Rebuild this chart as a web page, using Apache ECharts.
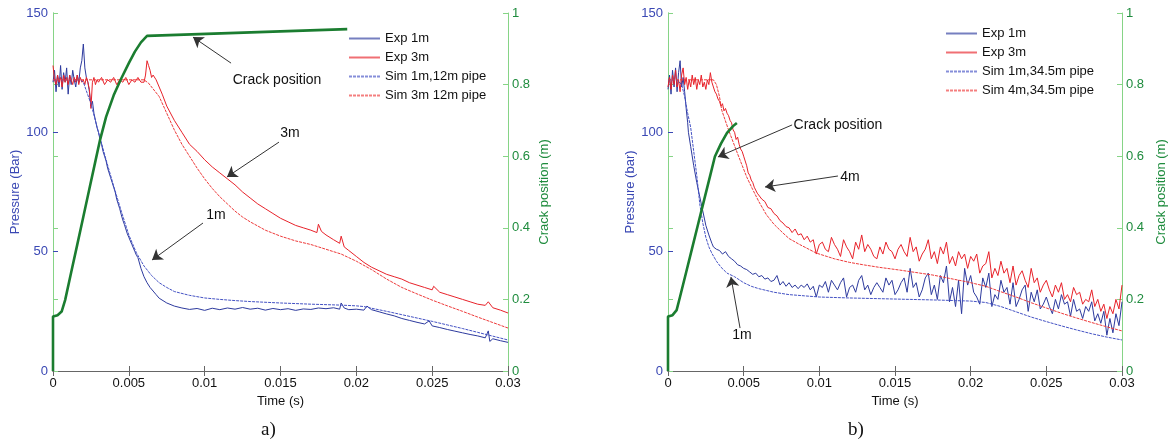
<!DOCTYPE html>
<html><head><meta charset="utf-8">
<script src="https://cdn.jsdelivr.net/npm/echarts/dist/echarts.min.js"></script>
<style>html,body{margin:0;padding:0;background:#fff}#c{width:1170px;height:445px}</style>
</head><body><div id="c"></div><script>
// ---------- data (time s, pressure bar / crack m) ----------
const timeRange = [0, 0.03, 0.005];
const pressureRange = [0, 150, 50];
const crackRange = [0, 1, 0.2];

const expA1m = [[0,121],[0.0001,126],[0.0002,117],[0.0003,124],[0.0004,119],[0.0005,128],[0.0006,118],[0.0007,125],[0.0008,121],[0.0009,127],[0.001,116],[0.0011,124],[0.0012,120],[0.0013,126],[0.0014,122],[0.0015,119],[0.0016,124],[0.0017,121],[0.0018,127],[0.0019,130],[0.002,137],[0.0021,127],[0.0022,123],[0.0023,121],[0.0024,117],[0.0025,111],[0.0026,113],[0.0027,108],[0.0028,105],[0.0029,102],[0.003,100],[0.0031,97],[0.0032,95],[0.0033,92],[0.0034,90],[0.0035,88],[0.0036,85],[0.0037,83],[0.0038,81],[0.0039,79],[0.004,77],[0.0041,75],[0.0042,72],[0.0043,70],[0.0044,68],[0.0045,65.5],[0.0046,63.3],[0.0047,61.5],[0.0048,59.5],[0.0049,57.5],[0.005,56],[0.0051,54.5],[0.0052,53],[0.0053,51.5],[0.0054,50],[0.0055,48.5],[0.0056,47.5],[0.0058,43],[0.006,39.5],[0.0062,37],[0.0064,35],[0.0066,33.5],[0.0068,32],[0.007,30.5],[0.0075,28.5],[0.008,27.2],[0.0085,26.4],[0.009,25.8],[0.0095,26.2],[0.01,25.4],[0.0105,26.3],[0.011,25.7],[0.0115,26.4],[0.012,25.9],[0.0125,26.6],[0.013,25.9],[0.0135,26.3],[0.014,25.5],[0.0145,26.2],[0.015,25.7],[0.0155,26.1],[0.016,25.4],[0.0165,26],[0.017,25.8],[0.0175,26.4],[0.018,26.1],[0.0185,26.5],[0.0189,25.9],[0.019,28.5],[0.0192,26.4],[0.0195,25.7],[0.02,25.9],[0.0205,25.5],[0.0207,27.2],[0.021,25.7],[0.0215,24.8],[0.022,23.9],[0.0225,23.1],[0.023,22],[0.0235,21.2],[0.024,20.4],[0.0245,19.7],[0.0248,21],[0.025,18.9],[0.0255,18.2],[0.026,17.4],[0.0265,16.7],[0.027,16],[0.0275,15.3],[0.028,14.7],[0.0285,13.9],[0.0287,16.8],[0.0288,12.4],[0.029,13.5],[0.0295,12.7],[0.03,12]];
const expA3m = [[0,128],[0.0001,122],[0.0002,120],[0.0003,124],[0.0004,121],[0.0005,123],[0.0006,119],[0.0007,124],[0.0008,121],[0.0009,123],[0.001,120],[0.0011,124],[0.0012,122],[0.0013,120],[0.0014,123],[0.0015,121],[0.0016,124],[0.0017,120],[0.0018,123],[0.0019,121],[0.002,122],[0.0021,120],[0.0022,123],[0.0023,121],[0.0024,118],[0.0025,110],[0.0026,121],[0.0027,123],[0.0028,120],[0.0029,122],[0.003,121],[0.0032,123],[0.0034,120],[0.0036,122],[0.0038,121],[0.004,123],[0.0042,120],[0.0044,122],[0.0046,121],[0.0048,123],[0.005,120],[0.0052,122],[0.0054,121],[0.0056,123],[0.0058,121],[0.006,121],[0.0061,124],[0.0062,130],[0.0063,128],[0.0064,126],[0.0065,123],[0.0066,124],[0.0068,122],[0.007,119],[0.0072,116],[0.0075,111],[0.008,105],[0.0085,100],[0.009,95],[0.0095,92],[0.01,88.5],[0.0105,85.5],[0.011,83],[0.0115,80.5],[0.012,78],[0.0125,75],[0.013,72.5],[0.0135,70],[0.014,68],[0.0145,66],[0.015,64],[0.0155,62.5],[0.016,61],[0.0165,60],[0.017,59],[0.0174,58],[0.0175,61.5],[0.0177,58.5],[0.018,57],[0.0185,55],[0.0189,53.5],[0.019,56.5],[0.0192,52],[0.0195,50.5],[0.02,48],[0.0205,45.5],[0.021,43.5],[0.0215,42],[0.022,40.5],[0.0225,39.5],[0.023,38.5],[0.0235,37],[0.024,36],[0.0245,35],[0.025,34],[0.0251,35.5],[0.0255,33],[0.026,32],[0.0265,31],[0.027,30],[0.0275,29],[0.028,28],[0.0285,27.5],[0.0287,29],[0.029,26.5],[0.0295,25.5],[0.03,24.3]];
const simA1m = [[0,122],[0.0018,122],[0.002,121],[0.0025,112],[0.003,100],[0.0035,88.5],[0.004,77.5],[0.0045,67],[0.005,57],[0.0055,49.5],[0.006,44],[0.0065,40],[0.007,37],[0.0075,35],[0.008,33.3],[0.009,31.7],[0.01,30.6],[0.011,30],[0.012,29.5],[0.013,29.1],[0.015,28.5],[0.017,28],[0.019,27.6],[0.02,27.3],[0.0205,27],[0.021,26.3],[0.022,25],[0.023,23.6],[0.024,22.2],[0.025,20.8],[0.026,19.3],[0.027,17.8],[0.028,16.2],[0.029,14.6],[0.03,13]];
const simA3m = [[0,122],[0.006,122],[0.0063,120.6],[0.007,115],[0.0075,108],[0.008,101],[0.0085,95],[0.009,90],[0.0095,85],[0.01,80.5],[0.0105,76.5],[0.011,73],[0.0115,70],[0.012,67],[0.0125,64.5],[0.013,62.5],[0.014,59],[0.015,56.5],[0.016,54.5],[0.017,53],[0.018,51],[0.019,49],[0.02,46],[0.021,42.5],[0.022,38.5],[0.023,35],[0.024,32.3],[0.025,29.7],[0.026,27.3],[0.027,25],[0.028,22.6],[0.029,20.3],[0.03,18]];
const crackA = [[0,0],[0,0.152],[0.0003,0.156],[0.00057,0.166],[0.0008,0.198],[0.0012,0.276],[0.0016,0.353],[0.002,0.431],[0.0024,0.509],[0.0028,0.587],[0.0031,0.645],[0.0035,0.71],[0.004,0.77],[0.0045,0.817],[0.005,0.86],[0.0054,0.892],[0.0058,0.918],[0.0062,0.936],[0.0194,0.955]];

const expB1m = [[0,118],[0.0001,124],[0.0002,116],[0.0003,126],[0.0004,119],[0.0005,127],[0.0006,117],[0.0007,125],[0.0008,130],[0.0009,119],[0.001,123],[0.0011,117],[0.0012,110],[0.0013,104],[0.00135,100],[0.0015,94],[0.0017,86],[0.0019,79],[0.0021,73],[0.0023,67],[0.0025,61],[0.0027,57],[0.0029,53.5],[0.003,52],[0.0032,51],[0.0034,50.5],[0.0036,49],[0.0038,50],[0.004,48],[0.0042,47],[0.0044,46],[0.0046,44.5],[0.0048,44],[0.005,43],[0.0052,42.5],[0.0054,41.5],[0.0056,40.5],[0.0058,41],[0.006,39.5],[0.0062,40],[0.0064,38.5],[0.0066,39],[0.0068,37.5],[0.007,38],[0.0072,40],[0.0074,36],[0.0076,37.5],[0.0078,35.5],[0.008,37],[0.0082,35],[0.0084,36],[0.0086,34.5],[0.0088,36],[0.009,35],[0.0092,36.5],[0.0094,34],[0.0096,35.5],[0.0098,31],[0.01,36],[0.0102,35],[0.0104,37.5],[0.0106,33],[0.0108,38],[0.011,36],[0.0112,34],[0.0114,37],[0.0116,39],[0.0118,31],[0.012,35],[0.0122,36],[0.0124,33],[0.0126,38],[0.0128,40],[0.013,34],[0.0132,36],[0.0134,32],[0.0136,35],[0.0138,37],[0.014,35],[0.0142,33],[0.0144,39],[0.0146,36],[0.0148,38],[0.015,32],[0.0152,34],[0.0154,37],[0.0156,39],[0.0158,33],[0.016,43],[0.0162,35],[0.0164,37],[0.0166,31],[0.0168,34],[0.017,39],[0.0172,41],[0.0174,32],[0.0176,36],[0.0178,30],[0.018,40],[0.0182,37],[0.0184,44],[0.0186,29],[0.0188,35],[0.019,27],[0.0192,38],[0.0194,24],[0.0196,43],[0.0198,36],[0.02,40],[0.0202,33],[0.0204,31],[0.0206,28],[0.0208,39],[0.021,35],[0.0212,41],[0.0214,27],[0.0216,32],[0.0218,30],[0.022,38],[0.0222,33],[0.0224,35],[0.0226,28],[0.0228,37],[0.023,27],[0.0232,30],[0.0234,34],[0.0236,36],[0.0238,25],[0.024,33],[0.0242,29],[0.0244,34],[0.0246,26],[0.0248,28],[0.025,31],[0.0252,27],[0.0254,24],[0.0256,30],[0.0258,26],[0.026,32],[0.0262,28],[0.0264,29],[0.0266,23],[0.0268,30],[0.027,25],[0.0272,26],[0.0274,22],[0.0276,27],[0.0278,25],[0.028,29],[0.0282,21],[0.0284,24],[0.0286,20],[0.0288,25],[0.029,15],[0.0292,22],[0.0294,16],[0.0296,24],[0.0298,19],[0.03,29]];
const expB3m = [[0,119],[0.0001,123],[0.0002,118],[0.0003,124],[0.0004,120],[0.0005,126],[0.0006,119],[0.0007,122],[0.0008,117],[0.0009,124],[0.001,127],[0.0011,120],[0.0012,123],[0.0013,118],[0.0014,122],[0.0015,119],[0.0016,124],[0.0017,120],[0.0018,123],[0.0019,118],[0.002,122],[0.0021,120],[0.0022,124],[0.0023,119],[0.0024,121],[0.0025,118],[0.0026,122],[0.0027,120],[0.0028,125],[0.0029,121],[0.003,119],[0.0031,117],[0.0032,116],[0.0033,114],[0.0034,113],[0.0035,111],[0.0036,112],[0.0037,109],[0.0038,110],[0.0039,108],[0.004,107],[0.0041,105],[0.0042,104],[0.0043,101],[0.0044,100],[0.0045,97],[0.0046,98],[0.0047,95],[0.0048,93],[0.0049,92],[0.005,90],[0.0051,88],[0.0052,86],[0.0053,83],[0.0054,82],[0.0055,80],[0.0056,79],[0.0057,77],[0.0058,76.5],[0.0059,74.5],[0.006,75],[0.0062,72],[0.0064,71],[0.0066,68.5],[0.0068,68],[0.007,66],[0.0072,65],[0.0074,63],[0.0076,62],[0.0078,60.5],[0.008,60],[0.0082,58],[0.0084,59.5],[0.0086,57],[0.0088,57.5],[0.009,55],[0.0092,56.5],[0.0094,54],[0.0096,55],[0.0098,49],[0.01,53],[0.0102,54],[0.0104,51],[0.0106,50],[0.0108,56],[0.011,53],[0.0112,51],[0.0114,48],[0.0116,55],[0.0118,52],[0.012,50],[0.0122,47],[0.0124,54],[0.0126,51],[0.0128,57],[0.013,50],[0.0132,53],[0.0134,51],[0.0136,48],[0.0138,47],[0.014,52],[0.0142,49],[0.0144,54],[0.0146,51],[0.0148,50],[0.015,47],[0.0152,51],[0.0154,53],[0.0156,50],[0.0158,48],[0.016,56],[0.0162,50],[0.0164,52],[0.0166,46],[0.0168,49],[0.017,51],[0.0172,55],[0.0174,47],[0.0176,50],[0.0178,45],[0.018,52],[0.0182,49],[0.0184,54],[0.0186,45],[0.0188,48],[0.019,44],[0.0192,50],[0.0194,47],[0.0196,49],[0.0198,43],[0.02,48],[0.0202,46],[0.0204,49],[0.0206,41],[0.0208,44],[0.021,45],[0.0212,50],[0.0214,39],[0.0216,43],[0.0218,40],[0.022,46],[0.0222,41],[0.0224,43],[0.0226,37],[0.0228,44],[0.023,36],[0.0232,40],[0.0234,42],[0.0236,38],[0.0238,35],[0.024,43],[0.0242,37],[0.0244,39],[0.0246,33],[0.0248,36],[0.025,38],[0.0252,34],[0.0254,31],[0.0256,36],[0.0258,33],[0.026,37],[0.0262,30],[0.0264,32],[0.0266,29],[0.0268,35],[0.027,32],[0.0272,33],[0.0274,28],[0.0276,30],[0.0278,29],[0.028,34],[0.0282,27],[0.0284,30],[0.0286,25],[0.0288,28],[0.029,22],[0.0292,27],[0.0294,24],[0.0296,30],[0.0298,26],[0.03,36]];
const simB1m = [[0,122],[0.0006,122],[0.0009,120],[0.0011,115],[0.0013,108],[0.0015,102],[0.0017,92],[0.0019,82],[0.0021,70],[0.0023,62],[0.0025,56],[0.0027,52],[0.0029,49.3],[0.0032,46],[0.0035,43.5],[0.0039,41],[0.0044,39.5],[0.005,37],[0.0055,35.5],[0.006,34.5],[0.007,33],[0.008,32],[0.009,31.5],[0.01,31],[0.012,30.6],[0.014,30.3],[0.016,30],[0.018,29.7],[0.019,29.5],[0.02,29.3],[0.021,28.7],[0.022,27],[0.023,24.8],[0.024,22.6],[0.025,20.7],[0.026,18.9],[0.027,17.2],[0.028,15.6],[0.029,14.2],[0.03,13]];
const simB4m = [[0,122],[0.003,122],[0.0032,120],[0.0034,115],[0.00355,109.3],[0.004,101],[0.0043,96],[0.0046,91],[0.0052,81.3],[0.0056,76],[0.006,71],[0.0065,65.5],[0.007,61.5],[0.0076,57.8],[0.008,55.5],[0.0087,53],[0.0098,49.4],[0.011,47],[0.012,45.5],[0.013,44.4],[0.014,43.4],[0.0153,42.3],[0.0175,40.2],[0.0198,37.3],[0.021,35.5],[0.022,33.2],[0.023,31],[0.024,28.6],[0.025,26.4],[0.026,24.2],[0.027,22.2],[0.028,20.3],[0.029,18.5],[0.03,16.8]];
const crackB = [[0,0],[0,0.152],[0.0003,0.156],[0.00057,0.17],[0.0008,0.208],[0.0012,0.276],[0.0016,0.344],[0.002,0.412],[0.0024,0.48],[0.0028,0.548],[0.0031,0.599],[0.0035,0.635],[0.0039,0.665],[0.0043,0.684],[0.00455,0.693]];

const legendA = ['Exp 1m','Exp 3m','Sim 1m,12m pipe','Sim 3m 12m pipe'];
const legendB = ['Exp 1m','Exp 3m','Sim 1m,34.5m pipe','Sim 4m,34.5m pipe'];

// annotations: text anchor + arrow (from -> to), in data units (time, pressure)
const notesA = [
  {text:'Crack position', at:[0.01477,121.9], from:[0.01174,129.0], to:[0.00923,139.9]},
  {text:'3m', at:[0.01563,99.7], from:[0.0149,95.9], to:[0.01147,81.3]},
  {text:'1m', at:[0.01075,65.4], from:[0.00989,62.0], to:[0.00653,46.5]}
];
const notesB = [
  {text:'Crack position', at:[0.01123,103.1], from:[0.00820,103.1], to:[0.0033,89.7]},
  {text:'4m', at:[0.01203,81.3], from:[0.01123,81.7], to:[0.00641,77.1]},
  {text:'1m', at:[0.00489,15.1], from:[0.00476,18.0], to:[0.00416,39.4]}
];

// ---------- style ----------
const FONT = 'Liberation Sans, Arial, sans-serif';
const BLUE = '#2d3a9e', BLUE_SIM = '#4452c4', RED = '#e8222a', RED_SIM = '#ee3a3a';
const GREEN = '#1b7d30', GREEN_AX = '#86d486', GREEN_TXT = '#1f8c3e', BLUE_TXT = '#3a48b4';

const chart = echarts.init(document.getElementById('c'), null, {renderer:'canvas'});

function xAxes(gi) {
  const base = {type:'value', gridIndex:gi, min:timeRange[0], max:timeRange[1], interval:timeRange[2],
    splitLine:{show:false}, axisLine:{lineStyle:{color:'#666', width:1}},
    axisTick:{inside:true, length:5, lineStyle:{color:'#666'}}};
  return [
    Object.assign({}, base, {position:'bottom',
      axisLabel:{color:'#111', fontSize:13, fontFamily:FONT, margin:6},
      name:'Time (s)', nameLocation:'middle', nameGap:23,
      nameTextStyle:{color:'#111', fontSize:13, fontFamily:FONT}}),
    Object.assign({}, base, {position:'top', axisLabel:{show:false}})
  ];
}
function yAxes(gi, pname, nameGapL, nameGapR) {
  return [
    {type:'value', gridIndex:gi, position:'left', min:pressureRange[0], max:pressureRange[1], interval:pressureRange[2],
     splitLine:{show:false}, axisLine:{show:true, onZero:false, lineStyle:{color:GREEN_AX}},
     axisTick:{show:true, inside:true, length:5, lineStyle:{color:BLUE_TXT}},
     axisLabel:{color:BLUE_TXT, fontSize:13, fontFamily:FONT, margin:5},
     name:pname, nameLocation:'middle', nameGap:nameGapL, nameRotate:90,
     nameTextStyle:{color:BLUE_TXT, fontSize:13, fontFamily:FONT}},
    {type:'value', gridIndex:gi, position:'right', min:crackRange[0], max:crackRange[1], interval:crackRange[2],
     splitLine:{show:false}, axisLine:{show:true, onZero:false, lineStyle:{color:GREEN_AX}},
     axisTick:{show:true, inside:true, length:5, lineStyle:{color:GREEN_AX}},
     axisLabel:{color:GREEN_TXT, fontSize:13, fontFamily:FONT, margin:4},
     name:'Crack position (m)', nameLocation:'middle', nameGap:nameGapR, nameRotate:90,
     nameTextStyle:{color:GREEN_TXT, fontSize:13, fontFamily:FONT}},
    {type:'value', gridIndex:gi, position:'left', min:crackRange[0], max:crackRange[1], interval:crackRange[2],
     splitLine:{show:false}, axisLine:{show:true, onZero:false, lineStyle:{color:GREEN_AX}},
     axisTick:{show:true, inside:true, length:5, lineStyle:{color:GREEN_AX}},
     axisLabel:{show:false}}
  ];
}
function ln(name, data, color, xi, yi, opt) {
  return Object.assign({type:'line', name, data, xAxisIndex:xi, yAxisIndex:yi,
    symbol:'none', showSymbol:false, animation:false, silent:true,
    lineStyle:{color, width:1}, itemStyle:{color}}, opt||{});
}
function notes(list) {
  return {
    markLine:{silent:true, symbol:['none','arrow'], symbolSize:10, animation:false,
      lineStyle:{color:'#333', width:1, type:'solid'}, itemStyle:{color:'#222'}, label:{show:false},
      data:list.map(n => [{coord:n.from}, {coord:n.to}])},
    markPoint:{silent:true, symbol:'circle', symbolSize:1, animation:false,
      itemStyle:{color:'rgba(0,0,0,0)'},
      label:{show:true, position:'inside', formatter:'{b}', color:'#111', fontSize:14, fontFamily:FONT},
      data:list.map(n => ({name:n.text, coord:n.at}))}
  };
}
const simDash = {type:[3,1]};
const legendCommon = {orient:'vertical', itemWidth:31, itemHeight:13, selectedMode:false,
  itemStyle:{opacity:0}, lineStyle:{opacity:0.65},
  textStyle:{color:'#111', fontSize:13, fontFamily:FONT}};

const option = {
  backgroundColor:'#fff',
  animation:false,
  grid:[{left:53, top:13, width:455, height:358}, {left:668, top:13, width:454, height:358}],
  xAxis:[...xAxes(0), ...xAxes(1)],
  yAxis:[...yAxes(0,'Pressure (Bar)',27,30), ...yAxes(1,'Pressure (bar)',30,33)],
  legend:[
    Object.assign({data:legendA, left:343, top:27, itemGap:6}, legendCommon),
    Object.assign({data:legendB, left:940, top:22, itemGap:6}, legendCommon)
  ],
  graphic:[
    {type:'text', left:261, top:421, style:{text:'a)', font:'19px "Liberation Serif", serif', fill:'#111'}},
    {type:'text', left:848, top:421, style:{text:'b)', font:'19px "Liberation Serif", serif', fill:'#111'}}
  ],
  series:[
    ln('Exp 1m', expA1m, BLUE, 0, 0),
    ln('Exp 3m', expA3m, RED, 0, 0),
    ln('Sim 1m,12m pipe', simA1m, BLUE_SIM, 0, 0, {lineStyle:Object.assign({color:BLUE_SIM, width:1}, simDash)}),
    ln('Sim 3m 12m pipe', simA3m, RED_SIM, 0, 0, Object.assign({lineStyle:Object.assign({color:RED_SIM, width:1}, simDash)}, notes(notesA))),
    ln('Crack A', crackA, GREEN, 0, 1, {lineStyle:{color:GREEN, width:2.6}, z:5}),
    ln('Exp 1m', expB1m, BLUE, 2, 3),
    ln('Exp 3m', expB3m, RED, 2, 3),
    ln('Sim 1m,34.5m pipe', simB1m, BLUE_SIM, 2, 3, {lineStyle:Object.assign({color:BLUE_SIM, width:1}, simDash)}),
    ln('Sim 4m,34.5m pipe', simB4m, RED_SIM, 2, 3, Object.assign({lineStyle:Object.assign({color:RED_SIM, width:1}, simDash)}, notes(notesB))),
    ln('Crack B', crackB, GREEN, 2, 4, {lineStyle:{color:GREEN, width:2.6}, z:5})
  ]
};
chart.setOption(option);
</script></body></html>
